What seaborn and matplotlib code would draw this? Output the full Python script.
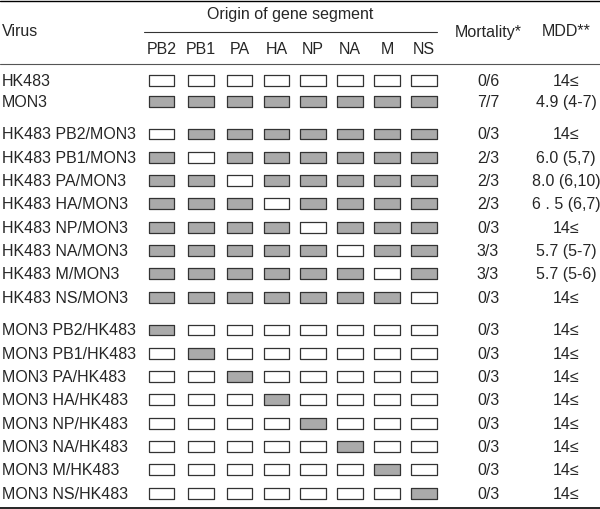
import numpy as np
import pandas as pd
import matplotlib
matplotlib.use('Agg')
import matplotlib.pyplot as plt
import seaborn as sns

# ข้อมูลตาราง
SEGMENTS = ['PB2', 'PB1', 'PA', 'HA', 'NP', 'NA', 'M', 'NS']
VIRUSES = ['HK483', 'MON3',
           'HK483 PB2/MON3', 'HK483 PB1/MON3', 'HK483 PA/MON3', 'HK483 HA/MON3',
           'HK483 NP/MON3', 'HK483 NA/MON3', 'HK483 M/MON3', 'HK483 NS/MON3',
           'MON3 PB2/HK483', 'MON3 PB1/HK483', 'MON3 PA/HK483', 'MON3 HA/HK483',
           'MON3 NP/HK483', 'MON3 NA/HK483', 'MON3 M/HK483', 'MON3 NS/HK483']
MORTALITY = ['0/6', '7/7',
             '0/3', '2/3', '2/3', '2/3', '0/3', '3/3', '3/3', '0/3',
             '0/3', '0/3', '0/3', '0/3', '0/3', '0/3', '0/3', '0/3']
MDD = ['14≤', '4.9 (4-7)',
       '14≤', '6.0 (5,7)', '8.0 (6,10)', '6 . 5 (6,7)', '14≤', '5.7 (5-7)', '5.7 (5-6)', '14≤',
       '14≤', '14≤', '14≤', '14≤', '14≤', '14≤', '14≤', '14≤']
# 1 = segment from MON3, 0 = from HK483
ORIGIN = [
    [0, 0, 0, 0, 0, 0, 0, 0],
    [1, 1, 1, 1, 1, 1, 1, 1],
    [0, 1, 1, 1, 1, 1, 1, 1],
    [1, 0, 1, 1, 1, 1, 1, 1],
    [1, 1, 0, 1, 1, 1, 1, 1],
    [1, 1, 1, 0, 1, 1, 1, 1],
    [1, 1, 1, 1, 0, 1, 1, 1],
    [1, 1, 1, 1, 1, 0, 1, 1],
    [1, 1, 1, 1, 1, 1, 0, 1],
    [1, 1, 1, 1, 1, 1, 1, 0],
    [1, 0, 0, 0, 0, 0, 0, 0],
    [0, 1, 0, 0, 0, 0, 0, 0],
    [0, 0, 1, 0, 0, 0, 0, 0],
    [0, 0, 0, 1, 0, 0, 0, 0],
    [0, 0, 0, 0, 1, 0, 0, 0],
    [0, 0, 0, 0, 0, 1, 0, 0],
    [0, 0, 0, 0, 0, 0, 1, 0],
    [0, 0, 0, 0, 0, 0, 0, 1],
]

# ตำแหน่งแถว/คอลัมน์ (พิกเซล)
row_y = [81.5, 102.5] + [135 + 23.3 * i for i in range(8)] + [331 + 23.3 * i for i in range(8)]
col_x = [161.5, 201, 239.5, 276.5, 313, 350, 387, 424]
X_MORT, X_MDD = 488, 566

sns.set_theme(style='white')
plt.rcParams['font.family'] = ['Liberation Sans', 'DejaVu Sans']
FS = 11.5

rows = []
for r, v in enumerate(VIRUSES):
    for c, s in enumerate(SEGMENTS):
        rows.append({'x': col_x[c], 'y': row_y[r],
                     'origin': 'MON3' if ORIGIN[r][c] else 'HK483'})
df = pd.DataFrame(rows)

fig = plt.figure(figsize=(6, 5.1), dpi=100)
ax = fig.add_axes([0, 0, 1, 1])
ax.set_xlim(0, 600)
ax.set_ylim(510, 0)
ax.axis('off')

box = [(-1, -0.42), (1, -0.42), (1, 0.42), (-1, 0.42), (-1, -0.42)]
sns.scatterplot(data=df, x='x', y='y', hue='origin',
                palette={'HK483': 'white', 'MON3': '#aaaaaa'},
                marker=box, s=350, edgecolor='#333333', linewidth=0.9,
                legend=False, ax=ax)
ax.set_xlim(0, 600)
ax.set_ylim(510, 0)

# เส้นตาราง
ax.axhline(1.5, color='black', lw=1.0)
ax.plot([144, 437], [32.5, 32.5], color='#333333', lw=0.8)
ax.axhline(64.5, color='#555555', lw=0.8)
ax.axhline(508.5, color='black', lw=1.2)

# หัวตาราง
ax.text(2, 32, 'Virus', fontsize=FS, va='center', ha='left')
ax.text(290, 15, 'Origin of gene segment', fontsize=FS, va='center', ha='center')
for c, s in enumerate(SEGMENTS):
    ax.text(col_x[c], 50, s, fontsize=FS, va='center', ha='center')
ax.text(X_MORT, 32, 'Mortality*', fontsize=FS, va='center', ha='center')
ax.text(X_MDD, 32, 'MDD**', fontsize=FS, va='center', ha='center')

# เนื้อหา
for r, v in enumerate(VIRUSES):
    ax.text(2, row_y[r], v, fontsize=FS, va='center', ha='left')
    ax.text(X_MORT, row_y[r], MORTALITY[r], fontsize=FS, va='center', ha='center')
    ax.text(X_MDD, row_y[r], MDD[r], fontsize=FS, va='center', ha='center')

fig.savefig('out.png', dpi=100)
